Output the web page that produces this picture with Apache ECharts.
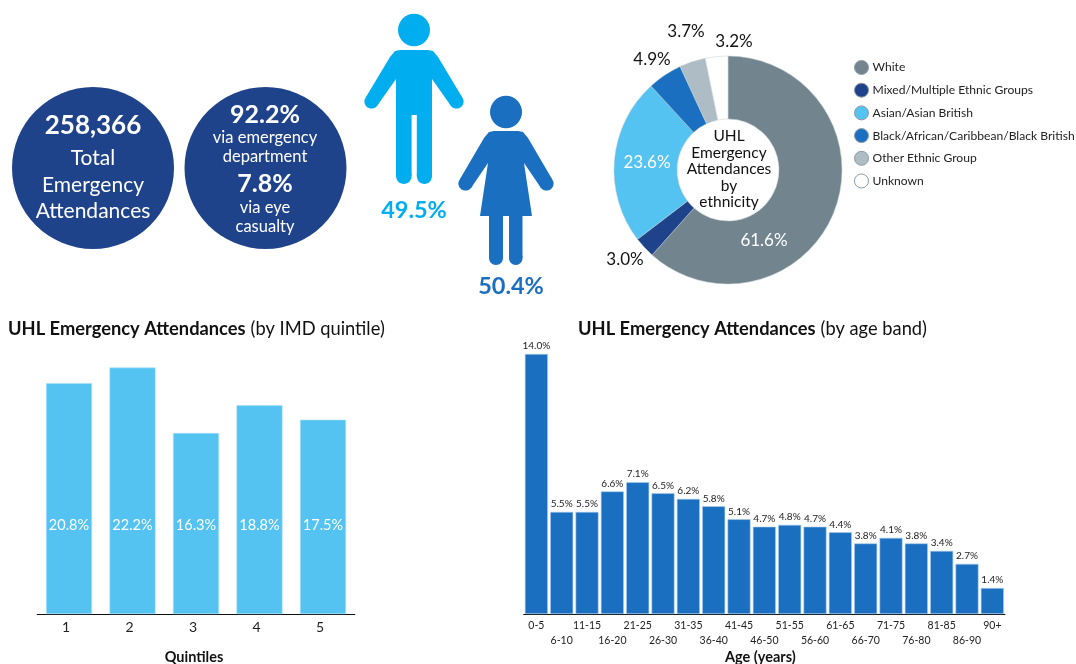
<!DOCTYPE html>
<html><head><meta charset="utf-8">
<style>html,body{margin:0;padding:0;background:#fff}#c{width:1076px;height:664px}</style>
<script src="https://cdn.jsdelivr.net/npm/echarts@6/dist/echarts.min.js"></script>
</head><body><div id="c"></div>
<script>
const quintiles = ['1','2','3','4','5'];
const quintileValues = [20.8,22.2,16.3,18.8,17.5];
const ageBands = ['0-5','6-10','11-15','16-20','21-25','26-30','31-35','36-40','41-45','46-50','51-55','56-60','61-65','66-70','71-75','76-80','81-85','86-90','90+'];
const ageValues = [14.0,5.5,5.5,6.6,7.1,6.5,6.2,5.8,5.1,4.7,4.8,4.7,4.4,3.8,4.1,3.8,3.4,2.7,1.4];
const ethnicNames = ['White','Mixed/Multiple Ethnic Groups','Asian/Asian British','Black/African/Caribbean/Black British','Other Ethnic Group','Unknown'];
const ethnicValues = [61.6,3.0,23.6,4.9,3.7,3.2];
const ethnicColors = ['#72858F','#1F438B','#54C3F1','#1B6FC1','#AEBCC5','#FFFFFF'];
const ethnicLabelColors = ['#fff','#111','#fff','#111','#111','#111'];
const ethnicLabelAt = [[764,241],[625,260],[647,163],[652,60],[686,32],[734,42]];

const F = 'Lato, "Open Sans", sans-serif';
const NAVY='#1F438B', CYAN='#00AEEF', BLUE='#1B6FC1', LIGHT='#54C3F1';

function txt(x,y,s,size,bold,color){
  return {type:'text',x:x,y:y,z:20,silent:true,style:{text:s,fill:color||'#fff',font:(bold?'bold ':'')+size+'px '+F,align:'center',verticalAlign:'middle'}};
}
function poly(pts,fill){return {type:'polygon',shape:{points:pts},style:{fill:fill},silent:true};}
function ell(cx,cy,rx,ry,fill){return {type:'ellipse',shape:{cx:cx,cy:cy,rx:rx,ry:ry},style:{fill:fill},silent:true};}
const manBody=[[400,50],[428,50],[433,51],[438,57],[462,97],[451,106],[432,79],[432,176],[416.8,176],[416.8,115],[411.6,115],[411.6,176],[396,176],[396,79],[377,106],[366,97],[390,57],[395,51]];
const womanBody=[[494,131],[518,131],[523,132],[528,138],[552,179],[541,188],[524,163],[532,216],[522.5,216],[522.5,258],[509,258],[509,216],[503,216],[503,258],[489,258],[489,216],[480,216],[488,163],[471,188],[460,179],[484,138],[489,132]];

const graphics=[
 {type:'circle',shape:{cx:93,cy:168,r:81},style:{fill:NAVY},silent:true},
 {type:'circle',shape:{cx:265.5,cy:168,r:81},style:{fill:NAVY},silent:true},
 txt(93,126,'258,366',26,true), txt(93,158,'Total',21), txt(93,185,'Emergency',21), txt(93,211,'Attendances',21),
 txt(265,115,'92.2%',25,true), txt(265,138,'via emergency',16.5), txt(265,157,'department',16.5),
 txt(265,184,'7.8%',25,true), txt(265,208,'via eye',16.5), txt(265,227,'casualty',16.5),
 ell(414,30,16,16.3,CYAN), poly(manBody,CYAN),
 ell(456.5,101.5,7.1,7.1,CYAN), ell(371.5,101.5,7.1,7.1,CYAN), ell(424.4,176,7.6,8,CYAN), ell(403.8,176,7.8,8,CYAN),
 ell(506,112,16,16.3,BLUE), poly(womanBody,BLUE),
 ell(546.5,183.5,7.1,7.1,BLUE), ell(465.5,183.5,7.1,7.1,BLUE), ell(515.75,258,6.75,7,BLUE), ell(496,258,7,7,BLUE),
 txt(414,210,'49.5%',23.5,true,CYAN), txt(511,286,'50.4%',23.5,true,BLUE),
 txt(729,136,'UHL',15.5,false,'#111'), txt(729,153,'Emergency',15.5,false,'#111'), txt(729,169,'Attendances',15.5,false,'#111'), txt(729,186,'by',15.5,false,'#111'), txt(729,202,'ethnicity',15.5,false,'#111')
];

function titleOf(left,bold,rest){
  return {left:left,top:315,text:'{b|'+bold+'} {r|'+rest+'}',textStyle:{rich:{
    b:{fontFamily:F,fontWeight:'bold',fontSize:18.3,color:'#111'},
    r:{fontFamily:F,fontWeight:'normal',fontSize:18.3,color:'#111'}}}};
}
const axisBase={type:'category',axisTick:{show:false},axisLine:{lineStyle:{color:'#111',width:1}},nameLocation:'middle'};
const nameStyle=pad=>({fontFamily:F,fontWeight:'bold',fontSize:14.5,color:'#111',padding:pad});

const option={
 animation:false,
 backgroundColor:'#fff',
 title:[titleOf(3,'UHL Emergency Attendances','(by IMD quintile)'),titleOf(573,'UHL Emergency Attendances','(by age band)')],
 legend:{orient:'vertical',left:854,top:60,padding:0,itemWidth:14,itemHeight:14,itemGap:7.7,icon:'circle',data:ethnicNames,
   itemStyle:{borderColor:'#8C9BA5',borderWidth:1},
   textStyle:{fontFamily:F,fontSize:12.1,height:14,lineHeight:14,color:'#222',padding:[0,0,0,-1]}},
 grid:[{left:37.25,width:317.5,top:354,bottom:50,outerBoundsMode:'none'},{left:523.7,width:481.3,top:354,bottom:50,outerBoundsMode:'none'}],
 xAxis:[
  Object.assign({},axisBase,{gridIndex:0,data:quintiles,name:'Quintiles',nameGap:36,nameTextStyle:nameStyle([0,4,0,0]),
    axisLabel:{fontFamily:F,fontSize:14,color:'#222',margin:6,padding:[0,6,0,0]}}),
  Object.assign({},axisBase,{gridIndex:1,data:ageBands,name:'Age (years)',nameGap:36,nameTextStyle:nameStyle([0,8,0,0]),
    axisLabel:{interval:0,fontFamily:F,fontSize:10.5,color:'#222',margin:4,lineHeight:15,
      formatter:(v,i)=>i%2?'\n'+v:v}})
 ],
 yAxis:[
  {gridIndex:0,type:'value',min:0,max:23.42,show:false,splitLine:{show:false}},
  {gridIndex:1,type:'value',min:0,max:14,show:false,splitLine:{show:false}}
 ],
 series:[
  {type:'bar',xAxisIndex:0,yAxisIndex:0,data:quintileValues,barWidth:46,
   itemStyle:{color:LIGHT,borderColor:'#A6E0F8',borderWidth:0.6},
   label:{show:true,position:'insideBottom',distance:81,formatter:p=>p.value.toFixed(1)+'%',fontFamily:F,fontSize:14.5,color:'#fff'}},
  {type:'bar',xAxisIndex:1,yAxisIndex:1,data:ageValues,barWidth:23,
   itemStyle:{color:BLUE,borderColor:'#A8CDEE',borderWidth:0.6},
   label:{show:true,position:'top',distance:3,formatter:p=>p.value.toFixed(1)+'%',fontFamily:F,fontSize:10,color:'#222'}},
  {type:'pie',center:[728,170],radius:[51,114],startAngle:90,clockwise:true,
   data:ethnicNames.map((n,i)=>({name:n,value:ethnicValues[i],
     itemStyle:{color:ethnicColors[i]},
     label:{color:ethnicLabelColors[i]}})),
   itemStyle:{borderColor:'#C5CED4',borderWidth:0.5},
   label:{show:true,position:'outside',formatter:p=>p.value.toFixed(1)+'%',fontFamily:F,fontSize:17},
   labelLine:{show:false},
   labelLayout:p=>{const a=ethnicLabelAt[p.dataIndex];return {x:a[0],y:a[1],align:'center',verticalAlign:'middle'};},
   silent:true}
 ],
 graphic:graphics
};
echarts.init(document.getElementById('c'),null,{renderer:'canvas'}).setOption(option);
</script></body></html>
